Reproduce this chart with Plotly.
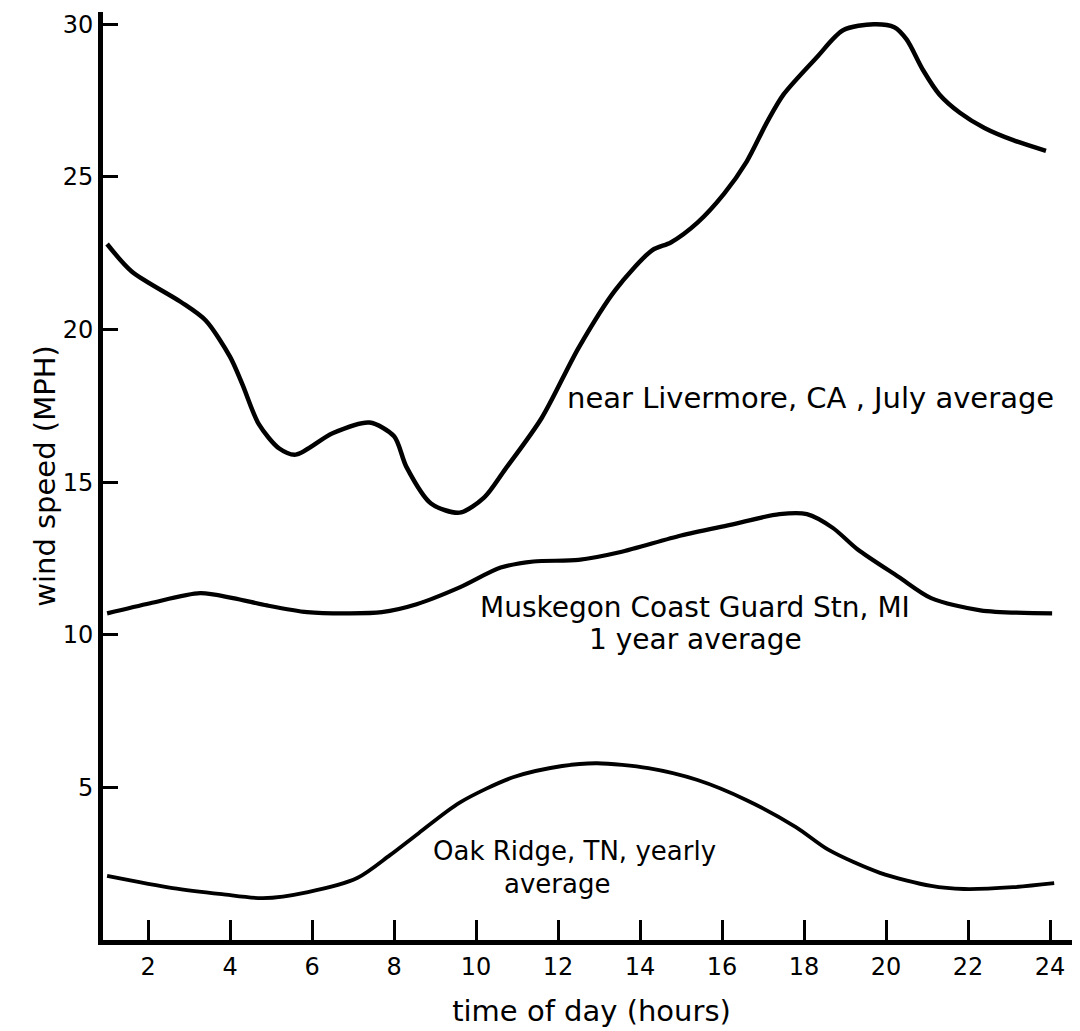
import plotly.graph_objects as go

# ---- data ----
livermore_h = [1.0, 1.6, 2.8, 3.4, 4.0, 4.3, 4.7, 5.2, 5.6, 6.5, 7.4, 8.0, 8.3, 8.9, 9.6,
               10.2, 10.7, 11.6, 12.5, 13.4, 14.3, 14.75, 15.4, 16.05, 16.6, 17.1, 17.5,
               18.3, 18.95, 19.7, 20.2, 20.5, 20.9, 21.3, 21.8, 22.4, 23.1, 23.9]
livermore_v = [22.8, 21.9, 20.9, 20.3, 19.1, 18.2, 16.9, 16.1, 15.9, 16.6, 16.95, 16.5, 15.5,
               14.3, 14.0, 14.5, 15.4, 17.1, 19.4, 21.3, 22.6, 22.85, 23.5, 24.45, 25.5, 26.8,
               27.7, 28.9, 29.8, 30.0, 29.9, 29.5, 28.5, 27.7, 27.1, 26.6, 26.2, 25.85]

muskegon_h = [1.0, 2.05, 3.27, 4.07, 4.9, 5.88, 6.9, 7.7, 8.55, 9.6, 10.6, 11.4, 12.5, 13.5,
              15.0, 16.2, 17.4, 18.07, 18.7, 19.3, 20.3, 21.1, 22.3, 24.05]
muskegon_v = [10.7, 11.03, 11.36, 11.2, 10.96, 10.74, 10.7, 10.74, 11.0, 11.55, 12.2, 12.4,
              12.45, 12.7, 13.25, 13.6, 13.95, 13.95, 13.5, 12.8, 11.9, 11.2, 10.8, 10.7]

oakridge_h = [1.0, 2.6, 3.8, 4.8, 5.9, 7.1, 7.9, 8.6, 9.6, 10.9, 12.1, 12.95, 14.2, 15.4,
              16.6, 17.8, 18.6, 19.85, 21.1, 21.9, 23.1, 24.1]
oakridge_v = [2.1, 1.7, 1.5, 1.37, 1.57, 2.03, 2.78, 3.5, 4.5, 5.33, 5.7, 5.79, 5.63, 5.24,
              4.58, 3.7, 2.95, 2.2, 1.77, 1.67, 1.73, 1.86]

x_ticks = [2, 4, 6, 8, 10, 12, 14, 16, 18, 20, 22, 24]
y_ticks = [5, 10, 15, 20, 25, 30]

FONT = "DejaVu Sans"

fig = go.Figure()
for hx, vy, w in [(livermore_h, livermore_v, 4.5), (muskegon_h, muskegon_v, 4.2),
                  (oakridge_h, oakridge_v, 3.8)]:
    fig.add_trace(go.Scatter(x=hx, y=vy, mode="lines",
                             line=dict(color="black", width=w, shape="spline", smoothing=0.8),
                             showlegend=False, hoverinfo="skip"))

ann_font = dict(family=FONT, size=28, color="black")
fig.add_annotation(x=12.17, y=17.75, text="near Livermore, CA , July average", showarrow=False,
                   xanchor="left", yanchor="middle", font=dict(family=FONT, size=29, color="black"))
fig.add_annotation(x=15.34, y=10.9, text="Muskegon Coast Guard Stn, MI", showarrow=False,
                   xanchor="center", yanchor="middle", font=ann_font)
fig.add_annotation(x=15.34, y=9.83, text="1 year average", showarrow=False,
                   xanchor="center", yanchor="middle", font=ann_font)
oak_font = dict(family=FONT, size=26, color="black")
fig.add_annotation(x=12.4, y=2.9, text="Oak Ridge, TN, yearly", showarrow=False,
                   xanchor="center", yanchor="middle", font=oak_font)
fig.add_annotation(x=11.97, y=1.82, text="average", showarrow=False,
                   xanchor="center", yanchor="middle", font=oak_font)

fig.update_layout(
    width=1080, height=1031,
    margin=dict(l=95, r=8, t=4, b=99),
    paper_bgcolor="white", plot_bgcolor="white",
    font=dict(family=FONT, size=24, color="black"),
    xaxis=dict(range=[0.9, 24.73], tickvals=x_ticks, ticktext=[str(t) for t in x_ticks],
               ticks="inside", ticklen=20, tickwidth=2.5, tickcolor="black",
               showline=True, linewidth=5, linecolor="black", showgrid=False, zeroline=False,
               ticklabelstandoff=1,
               title=dict(text="time of day (hours)", font=dict(size=29), standoff=22)),
    yaxis=dict(range=[0, 30.4], tickvals=y_ticks, ticktext=[str(t) for t in y_ticks],
               ticks="inside", ticklen=15, tickwidth=2.5, tickcolor="black",
               showline=True, linewidth=5, linecolor="black", showgrid=False, zeroline=False,
               ticklabelstandoff=0,
               title=dict(text="wind speed (MPH)", font=dict(size=29), standoff=0)),
)

fig.write_html("out.html")
